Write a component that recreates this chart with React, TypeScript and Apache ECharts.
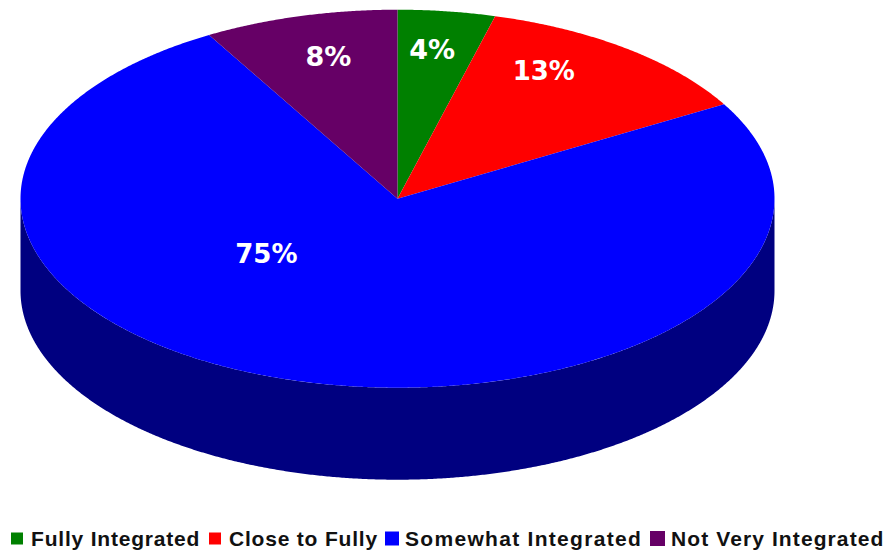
import React, { useEffect, useRef } from "react";
import * as echarts from "echarts";

const categories = ["Fully Integrated", "Close to Fully", "Somewhat Integrated", "Not Very Integrated"];
const shares = [4.17, 12.5, 75, 8.33];
const topColors = ["#008000", "#ff0000", "#0000ff", "#660066"];
const sideColors = ["#004000", "#800000", "#000080", "#330033"];
// label placement as fractions of the ellipse radii, relative to the centre
const labelFractions = [
  [0.092, -0.79],
  [0.388, -0.675],
  [-0.348, 0.29],
  [-0.183, -0.75],
];
const labelSizes = [27, 26, 26, 27];
const legendLefts = [11, 209, 385, 650];
const legendSizes = [12, 12, 14, 15];
const legendPads = [3, 3, 1, 1];
const legendSpacing = [0.8, 0.8, 1.3, 1.1];

const CX = 397.5;
const CY = 198.7;
const RX = 377;
const RY = 189;
const DEPTH = 92;

const total = shares.reduce((a, b) => a + b, 0);
const starts = shares.map((_, i) => shares.slice(0, i).reduce((a, b) => a + b, 0));
const toAngle = (v: number) => (v / total) * Math.PI * 2;
const rim = (a: number, dy = 0) => [CX + RX * Math.sin(a), CY - RY * Math.cos(a) + dy];

function arc(a0: number, a1: number, dy = 0) {
  const n = Math.max(2, Math.ceil(Math.abs(a1 - a0) / 0.005));
  const pts: number[][] = [];
  for (let k = 0; k <= n; k++) pts.push(rim(a0 + ((a1 - a0) * k) / n, dy));
  return pts;
}

function makeOption(): any {
  const sideSeries = {
    type: "custom",
    name: "side",
    coordinateSystem: "none",
    silent: true,
    z: 1,
    data: shares.map((v, i) => [starts[i], v, i]),
    renderItem: (_: any, api: any) => {
      const s = api.value(0);
      const v = api.value(1);
      const i = api.value(2);
      const a0 = Math.max(toAngle(s), Math.PI / 2);
      const a1 = Math.min(toAngle(s + v), (Math.PI * 3) / 2);
      if (a1 <= a0) return null;
      return {
        type: "polygon",
        shape: { points: [...arc(a0, a1), ...arc(a1, a0, DEPTH)] },
        style: { fill: sideColors[i] },
      };
    },
  };
  const topSeries = categories.map((name, i) => ({
    type: "custom",
    name,
    coordinateSystem: "none",
    z: 2,
    itemStyle: { color: topColors[i] },
    data: [[starts[i], shares[i], i]],
    renderItem: (_: any, api: any) => {
      const s = api.value(0);
      const v = api.value(1);
      const idx = api.value(2);
      const [fx, fy] = labelFractions[idx];
      return {
        type: "group",
        children: [
          {
            type: "polygon",
            shape: { points: [[CX, CY], ...arc(toAngle(s), toAngle(s + v))] },
            style: { fill: topColors[idx] },
          },
          {
            type: "text",
            z2: 10,
            x: CX + fx * RX,
            y: CY + fy * RY,
            style: {
              text: `${Math.round(v)}%`,
              fill: "#ffffff",
              font: `bold ${labelSizes[idx]}px "DejaVu Sans"`,
              align: "center",
              verticalAlign: "middle",
            },
          },
        ],
      };
    },
  }));
  return {
    animation: false,
    backgroundColor: "#ffffff",
    legend: categories.map((name, i) => ({
      data: [{ name, icon: "rect", itemStyle: { color: topColors[i] } }],
      left: legendLefts[i],
      top: 528,
      padding: 0,
      itemWidth: legendSizes[i],
      itemHeight: legendSizes[i],
      selectedMode: false,
      textStyle: {
        color: "#111111",
        fontFamily: '"Liberation Sans"',
        fontWeight: "bold",
        fontSize: 21,
        padding: [0, 0, 0, legendPads[i]],
      },
    })),
    series: [sideSeries, ...topSeries],
  };
}

export default function App() {
  const ref = useRef<HTMLDivElement>(null);
  useEffect(() => {
    document.body.style.margin = "0";
    const chart = echarts.init(ref.current!, null, { renderer: "svg", width: 887, height: 550 });
    chart.setOption(makeOption());
    ref.current!.querySelectorAll("text").forEach((t) => {
      const i = categories.indexOf(t.textContent || "");
      if (i >= 0) (t as any).style.letterSpacing = `${legendSpacing[i]}px`;
    });
    return () => chart.dispose();
  }, []);
  return <div ref={ref} style={{ width: 887, height: 550 }} />;
}
